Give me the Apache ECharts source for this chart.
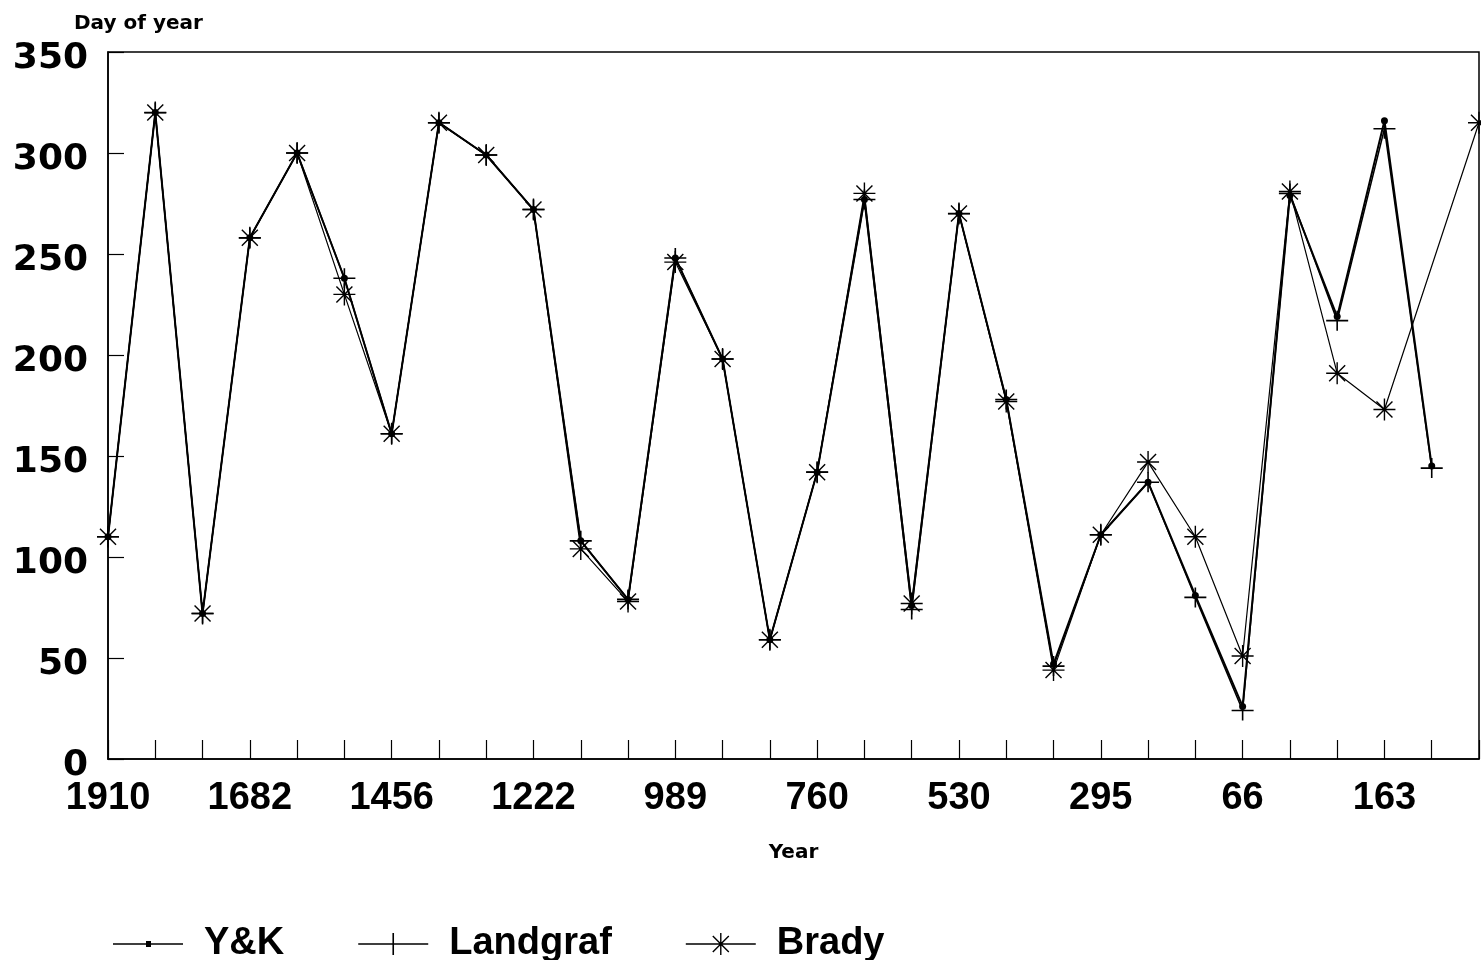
<!DOCTYPE html>
<html>
<head>
<meta charset="utf-8">
<script src="https://cdn.jsdelivr.net/npm/echarts@6/dist/echarts.min.js"></script>
<style>
  html, body { margin: 0; padding: 0; background: #fff; }
  #chart { width: 1481px; height: 960px; }
</style>
</head>
<body>
<div id="chart"></div>
<script>
// Year categories (labels shown every third point)
const categories = ['1910','','','1682','','','1456','','','1222','','','989','','','760','','','530','','','295','','','66','','','163','',''];
const yTicks = [0, 50, 100, 150, 200, 250, 300, 350];

const seriesNames = ['Y&K', 'Landgraf', 'Brady'];
const ykValues       = [110,320,72,258,300,238,161,315,299,272,108,79,248,198,59,142,277,76,270,178,47,111,137,81,26,279,219,316,145,null];
const landgrafValues = [110,320,72,258,300,238,161,315,299,272,108,79,248,198,59,142,277,74,270,178,46,111,137,80,24,280,217,312,144,null];
const bradyValues    = [110,320,72,258,300,230,161,315,299,272,104,78,246,198,59,142,280,77,270,177,44,111,147,110,51,281,191,173,null,315];

// filled marker shapes
const PLUS = 'path://M0,9.2L22,9.2L22,10.8L0,10.8Z M10.2,0L11.8,0L11.8,20L10.2,20Z';
const STAR = 'path://M0,10.3L22,10.3L22,11.7L0,11.7Z M10.3,0L11.7,0L11.7,22L10.3,22Z M2.5,3.5L3.5,2.5L19.5,18.5L18.5,19.5Z M18.5,2.5L19.5,3.5L3.5,19.5L2.5,18.5Z';

// legend icons: line + marker
const ICON_YK = 'path://M0,9.25L70,9.25L70,10.75L0,10.75Z M33,7L38,7L38,13L33,13Z';
const ICON_LG = 'path://M0,10.25L70,10.25L70,11.75L0,11.75Z M34.2,0L35.8,0L35.8,22L34.2,22Z';
const ICON_BR = 'path://M0,10.3L70,10.3L70,11.7L0,11.7Z M34.3,0L35.7,0L35.7,22L34.3,22Z M26.5,3.5L27.5,2.5L43.5,18.5L42.5,19.5Z M42.5,2.5L43.5,3.5L27.5,19.5L26.5,18.5Z';

const chart = echarts.init(document.getElementById('chart'), null, { renderer: 'canvas' });

chart.setOption({
  animation: false,
  backgroundColor: '#fff',
  grid: {
    left: 108, right: 2, top: 52, bottom: 201,
    show: true, borderColor: '#000', borderWidth: 1.5,
    outerBoundsMode: 'none'
  },
  legend: {
    left: 108, top: 920,
    itemWidth: 70, itemHeight: 24, itemGap: 74,
    textStyle: { fontFamily: 'Liberation Sans', fontWeight: 'bold', fontSize: 38, color: '#000', padding: [0, 0, 0, 16] },
    data: [
      { name: seriesNames[0], icon: ICON_YK, itemStyle: { color: '#000' } },
      { name: seriesNames[1], icon: ICON_LG, itemStyle: { color: '#000' } },
      { name: seriesNames[2], icon: ICON_BR, itemStyle: { color: '#000' } }
    ]
  },
  xAxis: {
    type: 'category',
    data: categories,
    boundaryGap: false,
    name: 'Year',
    nameLocation: 'middle',
    nameGap: 84,
    nameTextStyle: { fontFamily: 'DejaVu Sans', fontWeight: 'bold', fontSize: 20, color: '#000' },
    axisLine: { lineStyle: { color: '#000', width: 1.5 } },
    axisTick: { inside: true, length: 19, interval: 0, lineStyle: { color: '#000', width: 1.2 } },
    axisLabel: { interval: 2, margin: 21, fontFamily: 'Liberation Sans', fontWeight: 'bold', fontSize: 38, color: '#000' },
    splitLine: { show: false }
  },
  yAxis: {
    type: 'value',
    min: yTicks[0], max: yTicks[yTicks.length - 1], interval: 50,
    name: 'Day of year',
    nameLocation: 'end',
    nameGap: 18,
    nameTextStyle: { fontFamily: 'DejaVu Sans', fontWeight: 'bold', fontSize: 20, color: '#000', align: 'left', padding: [0, 0, 0, -34] },
    axisLine: { show: true, lineStyle: { color: '#000', width: 1.5 } },
    axisTick: { show: true, inside: true, length: 16, lineStyle: { color: '#000', width: 1.2 } },
    axisLabel: {
      margin: 20,
      formatter: '{v|{value}}',
      rich: { v: { padding: [13, 0, 0, 0], fontFamily: 'DejaVu Sans', fontWeight: 'bold', fontSize: 36, color: '#000' } }
    },
    splitLine: { show: false }
  },
  series: [
    {
      name: seriesNames[0], type: 'line', data: ykValues, connectNulls: true,
      symbol: 'circle', symbolSize: 7,
      itemStyle: { color: '#000' },
      lineStyle: { color: '#000', width: 2 },
      z: 4
    },
    {
      name: seriesNames[1], type: 'line', data: landgrafValues, connectNulls: true,
      symbol: PLUS, symbolSize: [22, 20],
      itemStyle: { color: '#000' },
      lineStyle: { color: '#000', width: 1.5 },
      z: 3
    },
    {
      name: seriesNames[2], type: 'line', data: bradyValues, connectNulls: true,
      symbol: STAR, symbolSize: 22,
      itemStyle: { color: '#000' },
      lineStyle: { color: '#000', width: 1.2 },
      z: 2
    }
  ]
});
</script>
</body>
</html>
